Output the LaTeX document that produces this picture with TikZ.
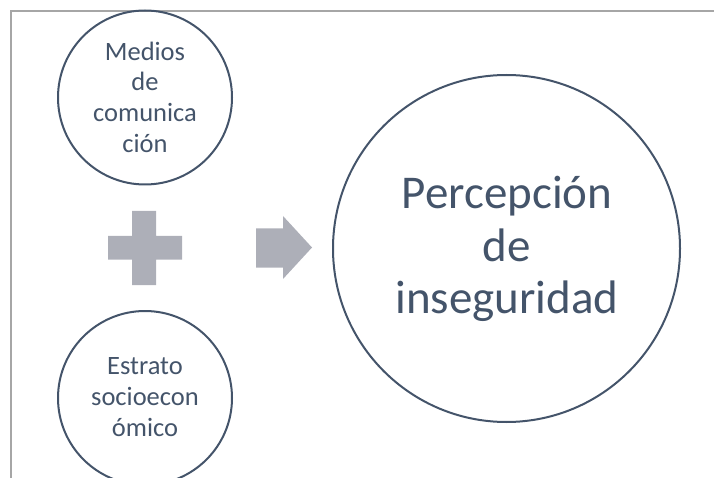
\documentclass[tikz,border=0pt]{standalone}
\usepackage{fontspec}
\setmainfont{Carlito}
\definecolor{ink}{HTML}{44546A}
\definecolor{shapegray}{HTML}{ADAFB8}
\definecolor{framegray}{HTML}{A6A6A6}
\begin{document}
\begin{tikzpicture}[x=1pt,y=-1pt,
  ring/.style={draw=ink,line width=2pt,circle,inner sep=0pt},
  smalltxt/.style={text=ink,align=center,font=\fontsize{26.5}{30.7}\selectfont,inner sep=0pt},
  bigtxt/.style={text=ink,align=center,font=\fontsize{47}{52.5}\selectfont,inner sep=0pt},
  glyph/.style={fill=shapegray,draw=none}]
\useasboundingbox (0,0) rectangle (714,478);
\clip (0,0) rectangle (714,478);
\draw[framegray,line width=1.5pt] (11,478) -- (11,11) -- (714,11);
\node[ring,minimum size=174pt] (c1) at (145,97.5) {};
\node[ring,minimum size=174pt] (c2) at (145,398) {};
\node[ring,minimum size=347pt] (c3) at (506.5,248.5) {};
\node[smalltxt] (t1) at (145,97) {Medios\\de\\comunica\\ción};
\node[smalltxt] (t2) at (145,397) {Estrato\\socioecon\\ómico};
\node[bigtxt] (t3) at (507,249) {Percepción\\de\\inseguridad};
\fill[glyph] (132,211) -- (156,211) -- (156,236) -- (182,236) -- (182,259.5) -- (156,259.5) -- (156,285) -- (132,285) -- (132,259.5) -- (108,259.5) -- (108,236) -- (132,236) -- cycle;
\fill[glyph] (256,228.3) -- (283,228.3) -- (283,216) -- (312,247.5) -- (283,279) -- (283,267.7) -- (256,267.7) -- cycle;
\end{tikzpicture}
\end{document}
